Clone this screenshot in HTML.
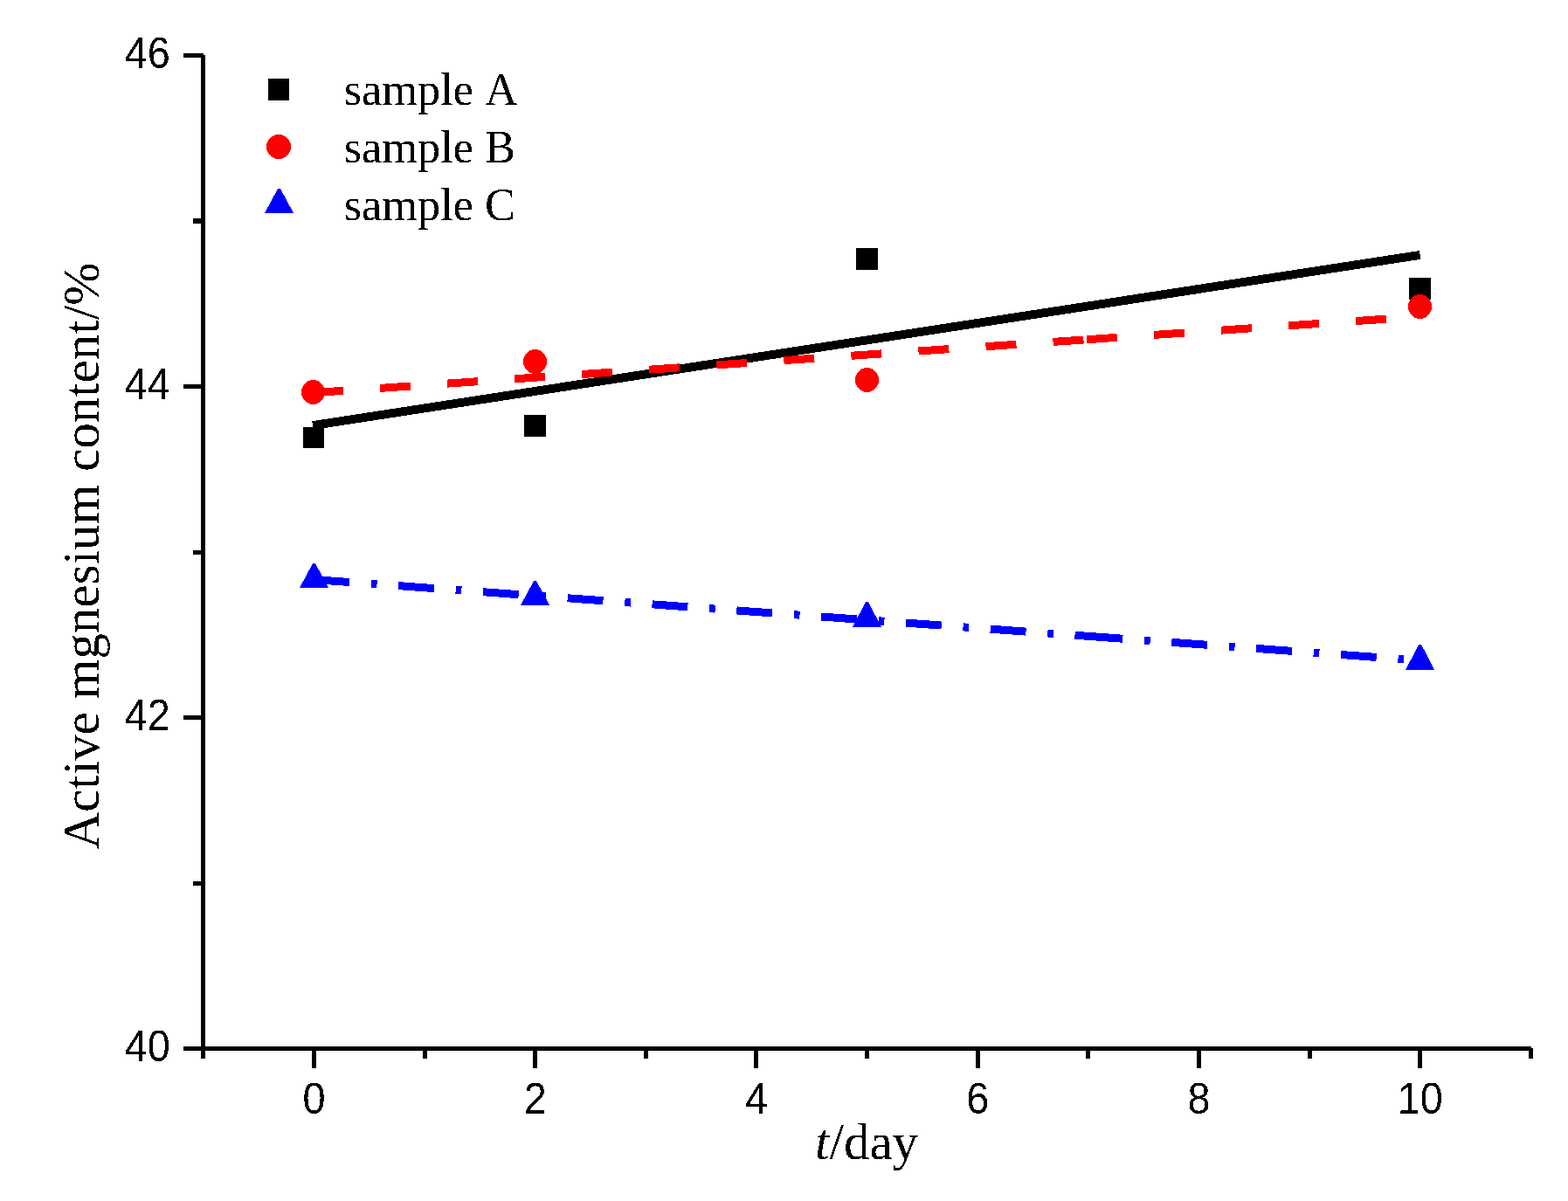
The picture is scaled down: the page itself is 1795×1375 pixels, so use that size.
<!DOCTYPE html>
<html lang="en">
<head>
<meta charset="utf-8">
<title>Active magnesium content vs t/day</title>
<style>
html,body{margin:0;padding:0;background:#fff;}
body{width:1795px;height:1375px;overflow:hidden;}
svg{display:block;}
text{font-kerning:none;font-variant-ligatures:none;}
.tick{font-family:"Liberation Sans",sans-serif;font-size:49.4px;fill:#000;}
.leg{font-family:"Liberation Serif",serif;font-size:53.0px;fill:#000;}
.ttl{font-family:"Liberation Serif",serif;font-size:60.2px;fill:#000;}
</style>
</head>
<body>
<svg width="1795" height="1375" viewBox="0 0 1795 1375">
<defs>
<filter id="crisp" filterUnits="userSpaceOnUse" x="0" y="0" width="1795" height="1375" color-interpolation-filters="sRGB">
<feComponentTransfer><feFuncA type="discrete" tableValues="0 1"/></feComponentTransfer>
</filter>
</defs>
<rect x="0" y="0" width="1795" height="1375" fill="#ffffff"/>

<g fill="#000" shape-rendering="crispEdges">
<rect x="230" y="63" width="5" height="1149"/>
<rect x="210" y="1198" width="1543" height="5"/>
<rect x="1750" y="1200" width="5" height="12"/>
<rect x="210" y="61" width="23" height="5"/>
<rect x="210" y="440" width="22" height="5"/>
<rect x="210" y="819" width="22" height="5"/>
<rect x="221" y="250" width="11" height="6"/>
<rect x="221" y="630" width="11" height="5"/>
<rect x="221" y="1009" width="11" height="5"/>
<rect x="357" y="1200" width="5" height="23"/>
<rect x="610" y="1200" width="5" height="23"/>
<rect x="863" y="1200" width="5" height="23"/>
<rect x="1117" y="1200" width="5" height="23"/>
<rect x="1370" y="1200" width="5" height="23"/>
<rect x="1623" y="1200" width="5" height="23"/>
<rect x="484" y="1200" width="5" height="12"/>
<rect x="737" y="1200" width="5" height="12"/>
<rect x="990" y="1200" width="5" height="12"/>
<rect x="1243" y="1200" width="5" height="12"/>
<rect x="1497" y="1200" width="5" height="12"/>
</g>
<g filter="url(#crisp)">
<g class="tick">
<text transform="translate(142.75 78.0) scale(0.948 1)">46</text>
<text transform="translate(142.75 457.0) scale(0.948 1)">44</text>
<text transform="translate(142.75 836.0) scale(0.948 1)">42</text>
<text transform="translate(142.75 1215.0) scale(0.948 1)">40</text>
<text text-anchor="middle" transform="translate(359.5 1275.2) scale(0.948 1)">0</text>
<text text-anchor="middle" transform="translate(612.7 1275.2) scale(0.948 1)">2</text>
<text text-anchor="middle" transform="translate(866.0 1275.2) scale(0.948 1)">4</text>
<text text-anchor="middle" transform="translate(1119.2 1275.2) scale(0.948 1)">6</text>
<text text-anchor="middle" transform="translate(1372.5 1275.2) scale(0.948 1)">8</text>
<text text-anchor="middle" transform="translate(1625.7 1275.2) scale(0.948 1)">10</text>
</g>
<text class="ttl" transform="translate(112.8 972.4) rotate(-90) scale(0.98 1)">Active mgnesium content/%</text>
<text class="ttl" transform="translate(933.1 1326.8) scale(0.98 1)"><tspan font-style="italic">t</tspan>/day</text>
<g class="leg">
<text transform="translate(393.7 120) scale(0.988 1)">sample A</text>
<text transform="translate(393.7 186) scale(0.988 1)">sample B</text>
<text transform="translate(393.7 252) scale(0.988 1)">sample C</text>
</g>
</g>
<g shape-rendering="crispEdges">
<rect x="307" y="90" width="24" height="25" fill="#000"/>
<circle cx="319" cy="168" r="14" fill="#f00"/>
<polygon points="318,216 321,216 336,244 303,244" fill="#00f"/>
</g>
<g shape-rendering="crispEdges">
<rect x="347" y="489" width="24" height="24" fill="#000"/>
<rect x="600" y="475" width="25" height="25" fill="#000"/>
<rect x="980" y="284" width="25" height="25" fill="#000"/>
<rect x="1613" y="318" width="25" height="25" fill="#000"/>
<line x1="358" y1="487.1" x2="1625.7" y2="291.9" stroke="#000" stroke-width="9.9"/>
<ellipse cx="358.5" cy="449" rx="13.5" ry="14" fill="#f00"/>
<ellipse cx="612.5" cy="414" rx="13.5" ry="14" fill="#f00"/>
<ellipse cx="992.5" cy="435" rx="13.5" ry="14" fill="#f00"/>
<ellipse cx="1625.5" cy="351" rx="13.5" ry="14" fill="#f00"/>
<line x1="358" y1="449.70" x2="1243.8" y2="388.76" stroke="#f00" stroke-width="9" stroke-dasharray="35 42.23"/>
<line x1="1243.8" y1="388.76" x2="1625.5" y2="362.50" stroke="#f00" stroke-width="9" stroke-dasharray="35 42.23"/>
<polygon points="358,645 361,645 376,673 343,673" fill="#00f"/>
<polygon points="611,665 614,665 629,693 596,693" fill="#00f"/>
<polygon points="991,689 994,689 1009,718 976,718" fill="#00f"/>
<polygon points="1624.2,738 1627.2,738 1642,767 1609,767" fill="#00f"/>
<line x1="359.3" y1="663.54" x2="1244.5" y2="728.25" stroke="#00f" stroke-width="9" stroke-dasharray="40.9 24.9 6.6 24.66"/>
<line x1="1244.5" y1="728.25" x2="1625.5" y2="756.10" stroke="#00f" stroke-width="9" stroke-dasharray="40.9 24.9 6.6 24.66"/>
</g>
</svg>
</body>
</html>
